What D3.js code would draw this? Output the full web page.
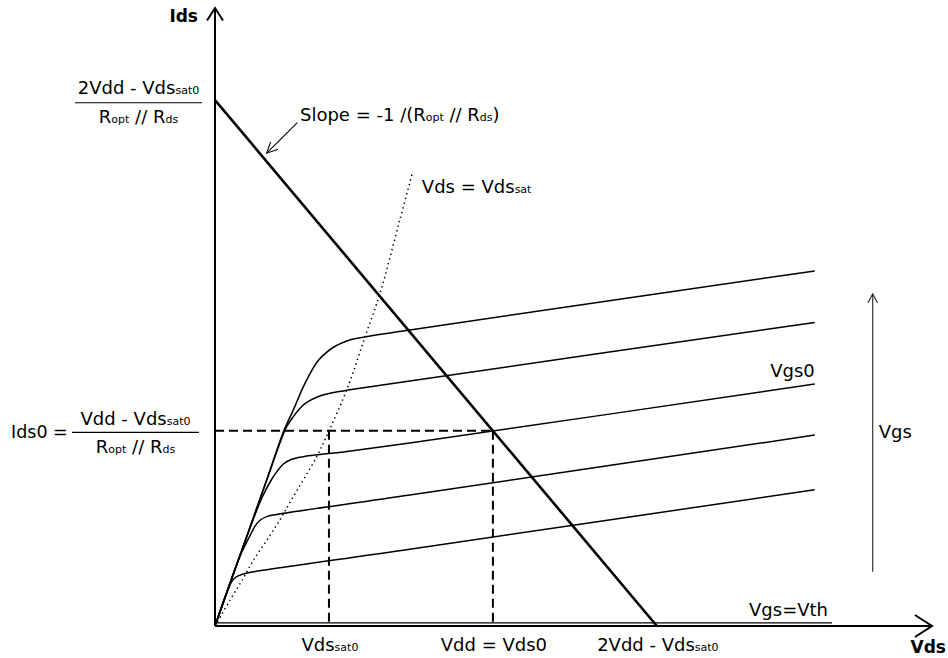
<!DOCTYPE html>
<html>
<head>
<meta charset="utf-8">
<script src="https://cdn.jsdelivr.net/npm/d3@7/dist/d3.min.js"></script>
<style>
  html, body { margin: 0; padding: 0; background: #fff; }
  svg { display: block; font-family: "DejaVu Sans", sans-serif; }
</style>
</head>
<body>
<svg id="chart" width="948" height="658"></svg>
<script>
// ---- data (Vds in arbitrary units, Ids in arbitrary units) ----
const vdd = 10;
const vdssat0 = 4.1;
const loadEnd = 15.9;      // 2Vdd - Vdssat0
const loadTop = 10;        // (2Vdd - Vdssat0)/(Ropt//Rds)
const ids0 = 3.71;
const xMax = 25.8;
const yMax = 11.75;

const curveVgs1 = [[0,0],[1.86,2.78],[2.46,3.69],[2.82,4.11],[3.18,4.55],[3.42,4.80],[3.66,5.01],[3.90,5.15],[4.26,5.30],[4.74,5.42],[5.22,5.48],[7.01,5.63],[21.58,6.75]];
const curveVgs2 = [[0,0],[1.86,2.77],[2.35,3.50],[2.58,3.79],[2.82,3.98],[3.06,4.14],[3.30,4.25],[3.66,4.35],[4.02,4.41],[4.61,4.47],[5.22,4.52],[7.01,4.66],[21.58,5.77]];
const curveVgs0 = [[0,0],[1.30,1.92],[1.70,2.45],[2.04,2.79],[2.22,2.93],[2.46,3.08],[2.76,3.17],[3.18,3.22],[3.78,3.26],[4.62,3.31],[7.01,3.48],[21.58,4.60]];
const curveVgs4 = [[0,0],[0.85,1.27],[1.05,1.50],[1.26,1.72],[1.44,1.90],[1.62,2.01],[1.86,2.08],[2.22,2.12],[7.01,2.49],[21.58,3.63]];
const curveVgs5 = [[0,0],[0.45,0.67],[0.62,0.86],[0.78,0.94],[1.02,0.99],[1.50,1.04],[7.01,1.46],[21.58,2.59]];
const curveVth  = [[0,0.06],[22.2,0.06]];
const satCurve  = [[0,0],[0.54,0.49],[1.02,0.91],[1.38,1.25],[1.86,1.63],[2.34,2.02],[2.75,2.40],[3.66,3.22],[4.1,3.71],[4.74,4.49],[5.40,5.50],[5.94,6.33],[6.65,7.72],[7.12,8.65]];
const loadLine  = [[0, loadTop],[loadEnd, 0]];
const slopeArrow = [[2.96, 9.57],[1.86, 8.99]];

const xTickLabels = [
  {v: vdssat0, parts: [["Vds",0],["sat0",1]]},
  {v: vdd,     parts: [["Vdd = Vds0",0]]},
  {v: loadEnd, parts: [["2Vdd - Vds",0],["sat0",1]]}
];

// ---- drawing ----
const svg = d3.select("#chart");
const x = d3.scaleLinear().domain([0, xMax]).range([215, 932]);
const y = d3.scaleLinear().domain([0, yMax]).range([626, 8]);
const line = d3.line().x(d => x(d[0])).y(d => y(d[1]));
const smooth = d3.line().x(d => x(d[0])).y(d => y(d[1])).curve(d3.curveCatmullRom.alpha(0.5));

function rich(x0, y0, parts, anchor, size, sub, weight) {
  const t = svg.append("text").attr("x", x0).attr("y", y0)
    .attr("text-anchor", anchor || "start")
    .attr("font-size", size || 18)
    .attr("font-weight", weight || "normal")
    .attr("fill", "#000");
  parts.forEach(p => t.append("tspan").attr("font-size", p[1] ? (sub || 11) : (size || 18)).text(p[0]));
  return t;
}

// dashed guides
svg.append("path").attr("d", line([[0, ids0],[vdd, ids0]]))
  .attr("stroke", "#000").attr("stroke-width", 2).attr("stroke-dasharray", "9,5").attr("fill", "none");
svg.append("path").attr("d", line([[vdssat0, ids0],[vdssat0, 0]]))
  .attr("stroke", "#000").attr("stroke-width", 2).attr("stroke-dasharray", "9,5").attr("fill", "none");
svg.append("path").attr("d", line([[vdd, ids0],[vdd, 0]]))
  .attr("stroke", "#000").attr("stroke-width", 2).attr("stroke-dasharray", "9,5").attr("fill", "none");

// saturation boundary (dotted)
svg.append("path").attr("d", smooth(satCurve))
  .attr("stroke", "#000").attr("stroke-width", 1.5).attr("stroke-dasharray", "1.4,3.4").attr("fill", "none");

// characteristic curves
[curveVgs1, curveVgs2, curveVgs0, curveVgs4, curveVgs5].forEach(c => {
  svg.append("path").attr("d", smooth(c))
    .attr("stroke", "#000").attr("stroke-width", 1.5).attr("fill", "none");
});
svg.append("path").attr("d", line(curveVth))
  .attr("stroke", "#000").attr("stroke-width", 1.3).attr("fill", "none");

// load line
svg.append("path").attr("d", line(loadLine))
  .attr("stroke", "#000").attr("stroke-width", 2.6).attr("fill", "none");

// axes
svg.append("line").attr("x1", x(0)).attr("y1", y(0)).attr("x2", x(xMax)).attr("y2", y(0))
  .attr("stroke", "#000").attr("stroke-width", 2);
svg.append("polyline").attr("points", `${x(xMax)-17},${y(0)-11} ${x(xMax)},${y(0)} ${x(xMax)-17},${y(0)+11}`)
  .attr("stroke", "#000").attr("stroke-width", 2).attr("fill", "none");
svg.append("line").attr("x1", x(0)).attr("y1", y(0)).attr("x2", x(0)).attr("y2", y(yMax))
  .attr("stroke", "#000").attr("stroke-width", 2);
svg.append("polyline").attr("points", `${x(0)-8},${y(yMax)+12.5} ${x(0)},${y(yMax)} ${x(0)+8},${y(yMax)+12.5}`)
  .attr("stroke", "#000").attr("stroke-width", 2).attr("fill", "none");

// axis titles
rich(x(0) - 17, 22, [["Ids",0]], "end", 17, 11, "bold");
rich(946, 653, [["Vds",0]], "end", 17, 11, "bold");

// x labels
xTickLabels.forEach(l => rich(x(l.v) + 1, 651, l.parts, "middle", 18, 11));

// top-left fraction
const fx1 = 75, fx2 = 202, fcx = (fx1 + fx2) / 2;
const fy = y(loadTop) + 2.7;
rich(fcx, fy - 8.5, [["2Vdd - Vds",0],["sat0",1]], "middle", 18, 11);
svg.append("line").attr("x1", fx1).attr("x2", fx2).attr("y1", fy).attr("y2", fy).attr("stroke", "#000").attr("stroke-width", 1.2);
rich(fcx, fy + 20.5, [["R",0],["opt",1],[" // R",0],["ds",1]], "middle", 18, 11);

// Ids0 fraction
const gx1 = 72, gx2 = 199, gcx = (gx1 + gx2) / 2;
const gy = y(ids0) + 1.5;
rich(11, gy + 6, [["Ids0 =",0]], "start", 17.5, 11);
rich(gcx, gy - 7.5, [["Vdd - Vds",0],["sat0",1]], "middle", 18, 11);
svg.append("line").attr("x1", gx1).attr("x2", gx2).attr("y1", gy).attr("y2", gy).attr("stroke", "#000").attr("stroke-width", 1.2);
rich(gcx, gy + 21, [["R",0],["opt",1],[" // R",0],["ds",1]], "middle", 18, 11);

// slope annotation
rich(300, 120.7, [["Slope = -1 /(R",0],["opt",1],[" // R",0],["ds",1],[")",0]], "start", 18, 11);
{
  const [s, e] = slopeArrow;
  const sx = x(s[0]), sy = y(s[1]), ex = x(e[0]), ey = y(e[1]);
  svg.append("line").attr("x1", sx).attr("y1", sy).attr("x2", ex).attr("y2", ey).attr("stroke", "#000").attr("stroke-width", 1.1);
  const ang = Math.atan2(sy - ey, sx - ex), L = 12, a = 0.45;
  svg.append("polyline").attr("points",
    `${ex + L*Math.cos(ang + a)},${ey + L*Math.sin(ang + a)} ${ex},${ey} ${ex + L*Math.cos(ang - a)},${ey + L*Math.sin(ang - a)}`)
    .attr("stroke", "#000").attr("stroke-width", 1.1).attr("fill", "none");
}

// Vds = Vdssat label
rich(x(satCurve[satCurve.length-1][0]) + 9, 193.3, [["Vds = Vds",0],["sat",1]], "start", 18, 11);

// Vgs0 label
rich(x(curveVgs0[curveVgs0.length-1][0]), 377.3, [["Vgs0",0]], "end", 18, 11);
// Vgs=Vth label
rich(828, 616, [["Vgs=Vth",0]], "end", 18, 11);

// Vgs arrow
{
  const ax = 872.7, ay1 = 571.7, ay2 = 294;
  svg.append("line").attr("x1", ax).attr("x2", ax).attr("y1", ay1).attr("y2", ay2).attr("stroke", "#222").attr("stroke-width", 1.1);
  svg.append("polyline").attr("points", `${ax-4.8},${ay2+9} ${ax},${ay2} ${ax+4.8},${ay2+9}`)
    .attr("stroke", "#222").attr("stroke-width", 1.1).attr("fill", "none");
  rich(ax + 6, 438.3, [["Vgs",0]], "start", 18, 11);
}
</script>
</body>
</html>
